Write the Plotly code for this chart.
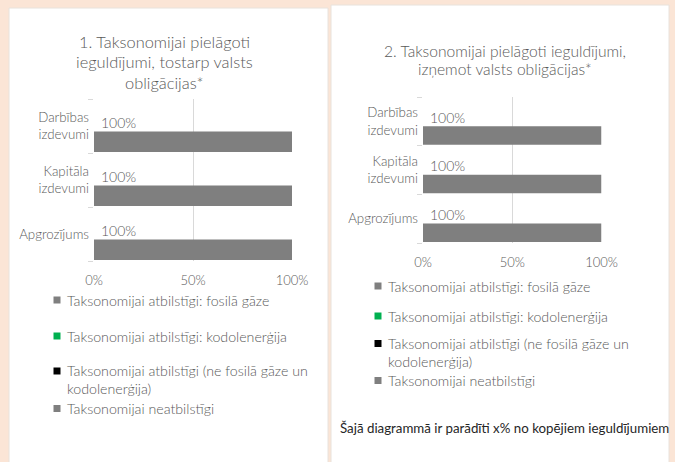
import plotly.graph_objects as go

W, H = 675, 462

categories = ["Apgrozījums", "Kapitāla izdevumi", "Darbības izdevumi"]
tick_labels = ["Apgrozījums", "Kapitāla<br>izdevumi", "Darbības<br>izdevumi"]

series_names = [
    "Taksonomijai atbilstīgi: fosilā gāze",
    "Taksonomijai atbilstīgi: kodolenerģija",
    "Taksonomijai atbilstīgi (ne fosilā gāze un<br>kodolenerģija)",
    "Taksonomijai neatbilstīgi",
]
series_colors = ["#7F7F7F", "#00B050", "#000000", "#7F7F7F"]

# chart 1: incl. sovereign bonds
c1_fosila = [0, 0, 0]
c1_kodol = [0, 0, 0]
c1_ne_fosila = [0, 0, 0]
c1_neatbilst = [100, 100, 100]

# chart 2: excl. sovereign bonds
c2_fosila = [0, 0, 0]
c2_kodol = [0, 0, 0]
c2_ne_fosila = [0, 0, 0]
c2_neatbilst = [100, 100, 100]

x_ticks = [0, 50, 100]
x_tick_labels = [f"{v}%" for v in x_ticks]

title1_lines = ["1. Taksonomijai pielāgoti", "ieguldījumi, tostarp valsts", "obligācijas*"]
title2_lines = ["2. Taksonomijai pielāgoti ieguldījumi,", "izņemot valsts obligācijas*"]
footnote = "Šajā diagrammā ir parādīti x% no kopējiem ieguldījumiem"

FONT = "Lato"
LIGHT = 300
GRAY_TXT = "#595959"
GRID = "#D9D9D9"


def X(px):
    return px / W


def Y(py):
    return 1 - py / H


def f(size, color=GRAY_TXT, weight=LIGHT):
    return dict(family=FONT, size=size, color=color, weight=weight)


fig = go.Figure()

charts = [
    dict(data=[c1_fosila, c1_kodol, c1_ne_fosila, c1_neatbilst], xa="x", ya="y"),
    dict(data=[c2_fosila, c2_kodol, c2_ne_fosila, c2_neatbilst], xa="x2", ya="y2"),
]

for ch in charts:
    for name, color, vals in zip(series_names, series_colors, ch["data"]):
        fig.add_trace(go.Bar(
            x=vals, y=categories, orientation="h", name=name.replace("<br>", " "),
            marker=dict(color=color, line=dict(width=0)),
            width=0.38, offset=-0.48, showlegend=False, hoverinfo="skip",
            xaxis=ch["xa"], yaxis=ch["ya"],
        ))
    total = [sum(v) for v in zip(*ch["data"])]
    for cat, v in zip(categories, total):
        fig.add_annotation(
            x=0, y=cat, xref=ch["xa"], yref=ch["ya"], text=f"{v:.0f}%",
            showarrow=False, xanchor="left", yanchor="middle", xshift=5, yshift=4,
            font=f(14),
        )

axis_common_x = dict(range=[0, 100], tickvals=x_ticks, ticktext=x_tick_labels, showgrid=True,
                     gridcolor=GRID, gridwidth=1, zeroline=False, showline=False,
                     ticks="", tickfont=f(13), ticklabelstandoff=10, automargin=False,
                     fixedrange=True)
axis_common_y = dict(categoryorder="array", categoryarray=categories, tickvals=categories,
                     ticktext=tick_labels, tickson="boundaries", ticks="outside", ticklen=5,
                     tickcolor=GRID, showline=False, showgrid=False, zeroline=False,
                     tickfont=f(13.3), ticklabelstandoff=4, automargin=False, fixedrange=True)

fig.update_layout(
    xaxis=dict(domain=[X(94), X(292)], anchor="y", **axis_common_x),
    yaxis=dict(domain=[Y(261), Y(99)], anchor="x", **axis_common_y),
    xaxis2=dict(domain=[X(423), X(601.5)], anchor="y2", **axis_common_x),
    yaxis2=dict(domain=[Y(243), Y(97)], anchor="x2", **axis_common_y),
)

# panels
fig.add_shape(type="rect", xref="paper", yref="paper", x0=X(9), x1=X(328), y0=Y(463), y1=Y(8),
              fillcolor="white", line=dict(color="#E8E2DC", width=1), layer="below")
fig.add_shape(type="rect", xref="paper", yref="paper", x0=X(331), x1=X(669), y0=Y(463), y1=Y(5),
              fillcolor="white", line=dict(color="#E8E2DC", width=1), layer="below")

# titles (one annotation per line)
for line, yc in zip(title1_lines, [41, 61.5, 82]):
    fig.add_annotation(x=X(164), y=Y(yc), xref="paper", yref="paper", text=line,
                       showarrow=False, xanchor="center", yanchor="middle", font=f(16.4))
for line, yc in zip(title2_lines, [51, 69]):
    fig.add_annotation(x=X(505), y=Y(yc), xref="paper", yref="paper", text=line,
                       showarrow=False, xanchor="center", yanchor="middle", font=f(15.6))

# legends (manual)
legend_pos = [
    (57, [300, 336, 379.5, 408.5]),
    (378, [286, 316, 352, 380.5]),
]
for mx, ys in legend_pos:
    for name, color, yc in zip(series_names, series_colors, ys):
        ytop = yc - 8.5 if "<br>" in name else yc
        fig.add_shape(type="rect", xref="paper", yref="paper",
                      x0=X(mx - 3.5), x1=X(mx + 3.5), y0=Y(ytop + 3.5), y1=Y(ytop - 3.5),
                      fillcolor=color, line=dict(width=0))
        fig.add_annotation(x=X(mx + 8), y=Y(yc), xref="paper", yref="paper", text=name,
                           showarrow=False, xanchor="left", yanchor="middle", align="left",
                           font=f(14.2))

fig.add_annotation(x=X(338), y=Y(428), xref="paper", yref="paper", text=footnote,
                   showarrow=False, xanchor="left", yanchor="middle",
                   font=f(13.3, "#262626", 400))

fig.update_layout(
    width=W, height=H, margin=dict(l=0, r=0, t=0, b=0, pad=0), autosize=False,
    paper_bgcolor="#FBE5D6", plot_bgcolor="rgba(0,0,0,0)",
    barmode="overlay", showlegend=False,
    font=dict(family=FONT, color=GRAY_TXT),
)

fig.write_html("out.html", config={"displayModeBar": False},
               post_script="document.body.style.margin='0';document.body.style.padding='0';")
